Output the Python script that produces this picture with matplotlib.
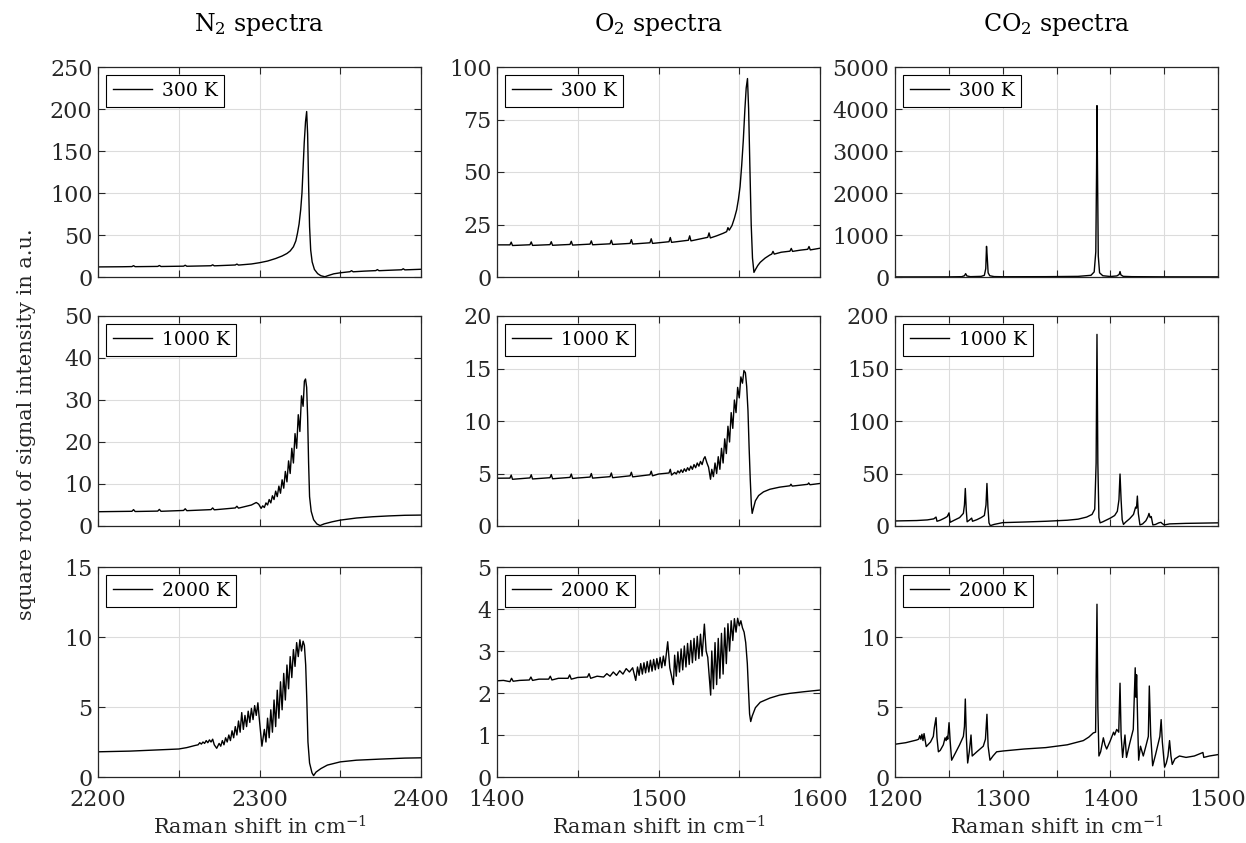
import matplotlib
matplotlib.use("Agg")
import matplotlib.pyplot as plt

# ---- N2 ----
n2_300_x = [2200, 2215, 2221, 2222, 2223, 2237, 2238, 2239, 2253, 2254, 2255, 2270, 2271, 2272,
            2285, 2286, 2287, 2295, 2300, 2305, 2310, 2314, 2317, 2319, 2321, 2322.5, 2323.5,
            2324.5, 2325.5, 2326.3, 2327, 2327.7, 2328.5, 2329.2, 2329.8, 2330.4, 2331, 2331.7,
            2332.6, 2334, 2336, 2338, 2340.5, 2343, 2346, 2350, 2356, 2357, 2358, 2365, 2372,
            2373, 2374, 2380, 2388, 2389, 2390, 2400]
n2_300_y = [12.0, 12.2, 12.4, 13.5, 12.3, 12.6, 13.7, 12.5, 12.9, 14.0, 12.8, 13.4, 14.5, 13.3,
            14.3, 15.4, 14.2, 15.5, 17, 19, 22, 25, 28, 31, 36, 43, 52,
            63, 80, 100, 130, 160, 185, 197, 170, 110, 60, 32,
            18, 9, 4, 1.5, 0.3, 2, 3.8, 5, 6.3, 7.5, 6.2, 7, 7.6,
            8.8, 7.5, 8, 8.6, 9.8, 8.5, 9.2]

n2_1000_x = [2200, 2221, 2222, 2223, 2237, 2238, 2239, 2253, 2254, 2255, 2270, 2271, 2272,
             2285, 2286, 2287, 2295, 2298, 2299.5, 2301,
             2302, 2303, 2304, 2305, 2306, 2307, 2308, 2309, 2310, 2311, 2312, 2313, 2314, 2315,
             2316, 2317, 2318, 2319, 2320, 2321, 2322, 2323, 2324, 2325, 2326, 2327, 2327.8,
             2328.5, 2329.2, 2329.8, 2330.4, 2331, 2332, 2333.5, 2335.5, 2337.5, 2340, 2345,
             2350, 2360, 2370, 2380, 2390, 2400]
n2_1000_y = [3.4, 3.5, 3.9, 3.45, 3.55, 3.95, 3.5, 3.7, 4.1, 3.65, 3.9, 4.3, 3.85,
             4.3, 4.7, 4.25, 5.0, 5.6, 5.2, 4.2,
             4.8, 4.4, 5.5, 5.0, 6.3, 5.5, 7.2, 6.3, 8.3, 7.0, 9.5, 7.8, 11.0, 9.0,
             13.0, 10.5, 15.5, 12.5, 18.5, 15.0, 22.0, 18.5, 26.5, 22.5, 31.0, 28.5, 34.5,
             35, 33, 26, 15, 7, 3.5, 1.5, 0.5, 0.1, 0.5, 1.0,
             1.4, 1.9, 2.2, 2.4, 2.55, 2.6]

n2_2000_x = [2200, 2220, 2240, 2250, 2255, 2260, 2262, 2263, 2264, 2265, 2266, 2267, 2268,
             2269, 2270, 2271, 2272, 2273.5,
             2275, 2276, 2277, 2278, 2279, 2280, 2281, 2282, 2283, 2284, 2285, 2286, 2287,
             2288, 2289, 2290, 2291, 2292, 2293, 2294, 2295, 2296, 2297, 2298, 2299, 2300,
             2301.5,
             2303, 2304, 2305, 2306, 2307, 2308, 2309, 2310, 2311, 2312, 2313, 2314, 2315,
             2316, 2317, 2318, 2319, 2320, 2321, 2322, 2323, 2324, 2325, 2326, 2327, 2327.8,
             2328.6, 2329.3, 2330, 2331, 2332.5, 2333.5, 2335, 2338, 2342, 2350, 2360, 2375,
             2390, 2400]
n2_2000_y = [1.8, 1.85, 1.95, 2.0, 2.1, 2.25, 2.3, 2.45, 2.35, 2.5, 2.4, 2.6, 2.45,
             2.65, 2.5, 2.7, 2.3, 2.05,
             2.4, 2.2, 2.6, 2.3, 2.8, 2.5, 3.0, 2.6, 3.3, 2.8, 3.6, 3.0, 4.0,
             3.2, 4.6, 3.4, 4.4, 3.6, 4.7, 3.9, 4.9, 4.1, 5.1, 4.4, 5.3, 4.0,
             2.2,
             3.4, 2.5, 4.2, 2.8, 4.8, 3.2, 5.5, 3.6, 6.2, 4.2, 6.8, 4.8, 7.4,
             5.5, 8.0, 6.3, 8.6, 7.1, 9.1, 7.9, 9.6, 8.6, 9.8, 9.0, 9.7, 9.4,
             8.0, 5.5, 2.5, 1.0, 0.3, 0.1, 0.35, 0.6, 0.85, 1.08, 1.2, 1.28,
             1.35, 1.37]

# ---- O2 ----
o2_300_x = [1400, 1408, 1408.8, 1409.6, 1420.4, 1421.2, 1422, 1432.8, 1433.6, 1434.4,
            1445.2, 1446, 1446.8, 1457.6, 1458.4, 1459.2, 1470, 1470.8, 1471.6,
            1482.4, 1483.2, 1484, 1494.7, 1495.5, 1496.3, 1506.5, 1507.3, 1508.1,
            1518.5, 1519.3, 1520.1, 1530.5, 1531.3, 1532.1, 1536, 1540, 1542.2, 1543, 1543.8,
            1545.5, 1547, 1548.4, 1549.5, 1550.5, 1551.5, 1552.5, 1553.5, 1554.3, 1555.1,
            1555.8, 1556.6, 1557.4, 1558.2, 1559.1, 1560, 1561.5, 1563, 1566, 1569,
            1570.1, 1570.9, 1571.7, 1576, 1581.4, 1582.2, 1583, 1588, 1592.4, 1593.2, 1594, 1600]
o2_300_y = [15.3, 15.3, 16.6, 15.0, 15.35, 16.7, 15.05, 15.4, 16.8, 15.1,
            15.5, 17.0, 15.2, 15.65, 17.2, 15.35, 15.8, 17.5, 15.5,
            16.0, 17.8, 15.7, 16.3, 18.2, 16.0, 16.8, 18.8, 16.5,
            17.5, 19.6, 17.2, 18.9, 21.0, 18.6, 19.6, 20.8, 21.6, 23.5, 22.3,
            24.5, 28, 32, 37, 43, 53, 65, 80, 90, 94.5,
            80, 52, 25, 9, 2.2, 3.5, 5.5, 7, 9, 10.5,
            10.9, 12.2, 10.9, 11.8, 12.3, 13.6, 12.2, 12.8, 13.2, 14.5, 12.9, 13.7]

o2_1000_x = [1400, 1408, 1408.8, 1409.6, 1420.4, 1421.2, 1422, 1432.8, 1433.6, 1434.4,
             1445.2, 1446, 1446.8, 1457.6, 1458.4, 1459.2, 1470, 1470.8, 1471.6,
             1482.4, 1483.2, 1484, 1494.7, 1495.5, 1496.3, 1500, 1506.5, 1507.3, 1508.1,
             1510, 1511, 1512, 1513, 1514, 1515, 1516, 1517, 1518, 1519, 1520, 1521, 1522,
             1523, 1524, 1525, 1526, 1527, 1528, 1528.8, 1530, 1531, 1532.2,
             1533, 1534, 1535, 1536, 1537, 1538, 1539, 1540, 1541, 1542, 1543, 1544, 1545,
             1546, 1547, 1548, 1549, 1550, 1551, 1552, 1552.9, 1553.8, 1554.6, 1555.4,
             1556.1, 1556.8, 1557.5, 1558.0, 1558.8, 1560, 1562, 1565, 1569, 1575,
             1581.4, 1582, 1582.8, 1592.4, 1593, 1593.8, 1600]
o2_1000_y = [4.55, 4.56, 4.85, 4.45, 4.58, 4.88, 4.48, 4.6, 4.9, 4.5,
             4.63, 4.95, 4.53, 4.66, 5.0, 4.56, 4.7, 5.05, 4.6,
             4.78, 5.12, 4.68, 4.88, 5.22, 4.78, 4.95, 5.05, 5.4, 4.85,
             5.1, 4.95, 5.25, 5.05, 5.35, 5.1, 5.45, 5.2, 5.55, 5.3, 5.7, 5.4, 5.85,
             5.55, 6.0, 5.7, 6.15, 5.85, 6.4, 6.6, 6.0, 5.6, 4.45,
             5.4, 4.7, 6.0, 5.0, 6.6, 5.4, 7.4, 6.0, 8.3, 6.9, 9.5, 8.0, 10.8,
             9.3, 12.0, 10.8, 13.2, 12.2, 14.2, 13.6, 14.8, 14.6, 13.3, 11.0,
             7.5, 4.5, 2.0, 1.2, 1.7, 2.4, 2.9, 3.25, 3.5, 3.7,
             3.83, 3.98, 3.8, 3.97, 4.1, 3.93, 4.05]

o2_2000_x = [1400, 1404, 1408, 1409, 1410, 1414, 1420, 1421, 1422, 1426, 1432, 1433, 1434,
             1438, 1444, 1445, 1446, 1450, 1456, 1457, 1458, 1462, 1466, 1468, 1470, 1472,
             1474, 1476, 1478, 1480, 1482, 1484, 1485.9,
             1487, 1488, 1489, 1490, 1491, 1492, 1493, 1494, 1495, 1496, 1497, 1498, 1499,
             1500, 1501, 1502, 1503, 1504, 1505.7, 1507, 1509.2,
             1510, 1511, 1512, 1513, 1514, 1515, 1516, 1517, 1518, 1519, 1520, 1521, 1522,
             1523, 1524, 1525, 1526, 1527, 1528.4, 1529.5, 1530.5, 1532.3,
             1533, 1534, 1535, 1536, 1537, 1538, 1539, 1540, 1541, 1542, 1543, 1544, 1545,
             1546, 1547, 1548, 1549, 1550, 1551, 1552, 1553, 1554, 1555, 1555.8, 1556.4,
             1557.1, 1558, 1560, 1563, 1569, 1575, 1581, 1590, 1600]
o2_2000_y = [2.29, 2.3, 2.27, 2.35, 2.28, 2.3, 2.31, 2.38, 2.3, 2.33, 2.33, 2.4, 2.31,
             2.35, 2.35, 2.43, 2.33, 2.37, 2.38, 2.46, 2.35, 2.4, 2.38, 2.46, 2.4, 2.5,
             2.42, 2.53, 2.45, 2.58, 2.5, 2.6, 2.3,
             2.62, 2.42, 2.7, 2.45, 2.72, 2.48, 2.75, 2.5, 2.78, 2.52, 2.8, 2.55, 2.82,
             2.58, 2.85, 2.6, 2.88, 2.65, 3.22, 2.6, 2.2,
             2.9, 2.4, 2.98, 2.5, 3.05, 2.55, 3.12, 2.62, 3.18, 2.68, 3.25, 2.72, 3.3,
             2.78, 3.35, 2.82, 3.4, 2.88, 3.64, 3.0, 2.85, 1.95,
             3.0, 2.1, 3.2, 2.2, 3.3, 2.35, 3.42, 2.45, 3.55, 2.7, 3.65, 3.0, 3.72,
             3.25, 3.77, 3.45, 3.78, 3.6, 3.72, 3.55, 3.45, 3.2, 2.7, 2.0, 1.5,
             1.32, 1.45, 1.65, 1.78, 1.88, 1.95, 1.99, 2.03, 2.07]

# ---- CO2 ----
co2_300_x = [1200, 1250, 1262, 1264.5, 1265.6, 1266.8, 1270, 1280, 1283, 1284.3, 1285.0,
             1285.6, 1286.5, 1288, 1292, 1300, 1340, 1370, 1382, 1385, 1386.5, 1387.2,
             1387.6, 1388.1, 1388.8, 1390, 1393, 1400, 1406, 1408.2, 1409, 1409.8, 1412,
             1420, 1450, 1500]
co2_300_y = [2, 3, 8, 30, 80, 25, 8, 15, 40, 200, 730,
             500, 100, 30, 10, 6, 8, 15, 40, 120, 600, 2500,
             4080, 2500, 500, 100, 30, 12, 25, 60, 130, 50, 15,
             8, 4, 3]

co2_1000_x = [1200, 1220, 1230, 1236, 1238.1, 1239, 1242, 1246, 1248.5, 1250.2, 1251.2, 1255,
              1260, 1263.5, 1264.5, 1265.3, 1266.2, 1267, 1269, 1271.2, 1272, 1276, 1280,
              1283, 1284.5, 1285.4, 1286.3, 1287.3, 1288.5, 1292, 1300, 1320, 1340, 1360,
              1370, 1378, 1383, 1385.5, 1386.8, 1387.6, 1388.4, 1389.4, 1390.5, 1393, 1396,
              1400, 1404, 1406.5, 1408, 1409, 1410, 1411, 1412.2, 1414, 1418, 1421.5, 1423.5,
              1424.3, 1425.1, 1426, 1427.5, 1430, 1433, 1435, 1435.9, 1437, 1438, 1439.5,
              1442, 1445, 1447, 1448, 1450, 1455, 1470, 1500]
co2_1000_y = [4.8, 5.2, 5.8, 6.8, 8.5, 4.5, 5.5, 7.5, 9, 12.5, 3.5, 5.5,
              8, 12, 20, 35.7, 15, 4, 5.5, 7.5, 4.5, 6, 8,
              10, 20, 40.5, 18, 3, 0.3, 1.5, 3.2, 3.8, 4.5, 5.5,
              6.5, 8.5, 11, 16, 60, 182.5, 60, 8, 3, 4, 5.5,
              7.5, 10, 14, 25, 49.5, 25, 6, 1.5, 3.5, 7, 11, 18,
              17, 28.5, 12, 1, 2, 5, 9, 12, 8, 9, 1,
              1.5, 3, 3.5, 2.5, 1, 2, 2.5, 3]

co2_2000_x = [1200, 1210, 1220, 1222, 1223, 1224, 1225, 1226, 1227, 1229, 1233, 1235.6,
              1236.5, 1238.1, 1239, 1240.3, 1242, 1244.9, 1246.5, 1247.5, 1248.5, 1249,
              1250.2, 1251.2, 1252.6, 1256, 1260, 1263.5, 1264.5, 1265.3, 1266.3, 1267.5,
              1269, 1270.6, 1271.7, 1276, 1282, 1284, 1285.4, 1286.5, 1288.2, 1291, 1294.4,
              1300.6, 1320, 1340, 1360, 1374.9, 1380, 1384.2, 1386.3, 1387.6, 1388.4, 1389.4,
              1391, 1393.5, 1395, 1396.6, 1400, 1403, 1404, 1405.9, 1407.8, 1409, 1410,
              1411.4, 1413.6, 1415, 1418, 1421.3, 1423.1, 1423.8, 1424.4, 1425.5, 1426.3,
              1428, 1430.6, 1433, 1435.3, 1436.2, 1437.5, 1439.3, 1442, 1446, 1447.2, 1448.3,
              1450.4, 1452, 1453.5, 1455, 1456.3, 1457.5, 1460, 1464.2, 1470.3, 1478, 1486,
              1486.8, 1492, 1500]
co2_2000_y = [2.34, 2.45, 2.64, 2.7, 2.95, 2.7, 3.05, 2.6, 3.1, 2.17, 2.5, 2.9,
              3.5, 4.24, 2.8, 1.8, 1.9, 2.3, 2.8, 2.6, 2.9, 2.7,
              3.88, 2.6, 1.2, 1.7, 2.3, 2.9, 3.6, 5.57, 2.8, 1.0,
              1.8, 3.0, 1.5, 1.8, 2.2, 2.7, 4.48, 2.2, 1.2, 1.5, 1.8,
              1.86, 2.0, 2.1, 2.3, 2.6, 2.85, 3.15, 3.2, 12.34, 5, 1.5,
              1.8, 2.8, 2.3, 2.0, 2.6, 3.2, 3.0, 3.4, 3.2, 6.7, 3.0,
              1.4, 3.0, 1.4, 2.4, 3.4, 7.8, 5.7, 7.3, 3.5, 1.2,
              2.2, 1.5, 2.2, 2.9, 6.5, 3.0, 0.8, 1.6, 2.9, 4.1, 2.5,
              0.7, 1.0, 1.5, 2.6, 1.5, 0.9, 1.3, 1.5, 1.4, 1.5, 1.75,
              1.4, 1.5, 1.6]

temps = ["300 K", "1000 K", "2000 K"]
titles = ["N$_2$ spectra", "O$_2$ spectra", "CO$_2$ spectra"]
xlims = [(2200, 2400), (1400, 1600), (1200, 1500)]
ylims = [[250, 50, 15], [100, 20, 5], [5000, 200, 15]]
ysteps = [[50, 10, 5], [25, 5, 1], [1000, 50, 5]]

data = [
    [(n2_300_x, n2_300_y), (n2_1000_x, n2_1000_y), (n2_2000_x, n2_2000_y)],
    [(o2_300_x, o2_300_y), (o2_1000_x, o2_1000_y), (o2_2000_x, o2_2000_y)],
    [(co2_300_x, co2_300_y), (co2_1000_x, co2_1000_y), (co2_2000_x, co2_2000_y)],
]

plt.rcParams["font.family"] = ["DejaVu Serif"]
plt.rcParams["mathtext.fontset"] = "dejavuserif"

W, H = 1246, 843
fig = plt.figure(figsize=(W / 100, H / 100), dpi=100)

col_left = [98, 497, 895]
row_top = [67, 316, 567]
ax_w, ax_h = 323, 210
dark = "#262626"

for c in range(3):
    for r in range(3):
        ax = fig.add_axes([col_left[c] / W, (H - row_top[r] - ax_h) / H, ax_w / W, ax_h / H])
        x, y = data[c][r]
        ax.plot(x, y, color="black", lw=1.0, label=temps[r])
        x0, x1 = xlims[c]
        ax.set_xlim(x0, x1)
        ax.set_ylim(0, ylims[c][r])
        xt = list(range(x0, x1 + 1, 50))
        ax.set_xticks(xt)
        if r == 2:
            ax.set_xticklabels([str(v) if v % 100 == 0 else "" for v in xt])
            ax.set_xlabel("Raman shift in cm$^{-1}$", fontsize=15, color=dark, labelpad=3)
        else:
            ax.set_xticklabels([])
        ax.set_yticks(list(range(0, ylims[c][r] + 1, ysteps[c][r])))
        ax.tick_params(direction="in", length=5, width=0.8, top=True, right=True,
                       labelsize=16, colors=dark, pad=4)
        ax.tick_params(axis="x", pad=9)
        ax.grid(True, color="#dcdcdc", lw=0.8)
        ax.set_axisbelow(True)
        for s in ax.spines.values():
            s.set_color(dark)
            s.set_linewidth(0.9)
        leg = ax.legend(loc="upper left", fontsize=13.5, frameon=True, fancybox=False,
                        framealpha=1, edgecolor="black", handlelength=2.1,
                        handletextpad=0.5, borderpad=0.35, borderaxespad=0.45)
        leg.get_frame().set_linewidth(0.8)
        if r == 0:
            ax.set_title(titles[c], fontsize=17, pad=26, color="black")

fig.text(27 / W, (H - 424) / H, "square root of signal intensity in a.u.", rotation=90,
         ha="center", va="center", fontsize=15, color=dark)

fig.savefig("out.png", dpi=100)
